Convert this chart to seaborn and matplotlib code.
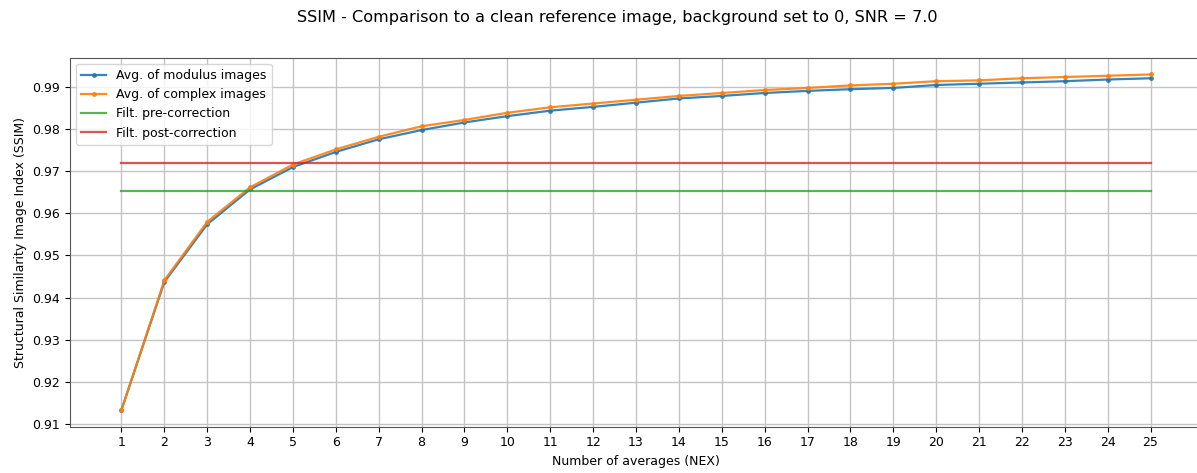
import numpy as np
import pandas as pd
import matplotlib
matplotlib.use("Agg")
import matplotlib.pyplot as plt
import seaborn as sns

# Number of averaged acquisitions
nex = list(range(1, 26))

# SSIM against the clean reference for each averaging strategy
ssim_modulus = [0.9133, 0.9437, 0.9574, 0.9657, 0.9710, 0.9746, 0.9776, 0.9798,
                0.9816, 0.9831, 0.9844, 0.9853, 0.9863, 0.9873, 0.9879, 0.9886,
                0.9891, 0.9895, 0.9898, 0.9905, 0.9908, 0.9911, 0.9914, 0.9918,
                0.9921]
ssim_complex = [0.9133, 0.9441, 0.9580, 0.9662, 0.9716, 0.9752, 0.9782, 0.9807,
                0.9822, 0.9839, 0.9852, 0.9861, 0.9870, 0.9879, 0.9886, 0.9893,
                0.9898, 0.9904, 0.9908, 0.9914, 0.9916, 0.9921, 0.9924, 0.9927,
                0.9930]

# Single-image filtered results (constant over NEX)
ssim_filt_pre = 0.9653
ssim_filt_post = 0.9720

labels = ["Avg. of modulus images", "Avg. of complex images",
          "Filt. pre-correction", "Filt. post-correction"]
title = "SSIM - Comparison to a clean reference image, background set to 0, SNR = 7.0"

plt.rcParams.update({
    "font.family": ["DejaVu Sans"],
    "font.size": 9,
    "lines.linewidth": 1.6,
})

fig = plt.figure(figsize=(11.97, 4.73), dpi=100)
ax = fig.add_axes([70 / 1197, 46.3 / 473, 1132 / 1197, 369 / 473])

palette = sns.color_palette("tab10")
sns.lineplot(x=nex, y=ssim_modulus, ax=ax, color=palette[0], marker=".",
             markersize=7, markeredgewidth=0, alpha=0.9, label=labels[0])
sns.lineplot(x=nex, y=ssim_complex, ax=ax, color=palette[1], marker=".",
             markersize=7, markeredgewidth=0, alpha=0.9, label=labels[1])
sns.lineplot(x=nex, y=[ssim_filt_pre] * len(nex), ax=ax, color=palette[2],
             alpha=0.8, label=labels[2])
sns.lineplot(x=nex, y=[ssim_filt_post] * len(nex), ax=ax, color=palette[3],
             alpha=0.8, label=labels[3])

ax.set_xticks(nex)
ax.set_yticks(np.arange(0.91, 0.9901, 0.01))
ax.set_yticklabels([f"{v:.2f}" for v in np.arange(0.91, 0.9901, 0.01)])
ax.grid(True, color="#c4c4c4", linewidth=1.0)
ax.set_axisbelow(True)
for side in ("left", "bottom", "top", "right"):
    ax.spines[side].set_color("#555555")
ax.set_xlabel("Number of averages (NEX)")
ax.set_ylabel("Structural Similarity Image Index (SSIM)")
ax.legend(loc="upper left")
fig.suptitle(title, x=0.516, y=0.979, fontsize=11.6)

fig.savefig("out.png", dpi=100)
